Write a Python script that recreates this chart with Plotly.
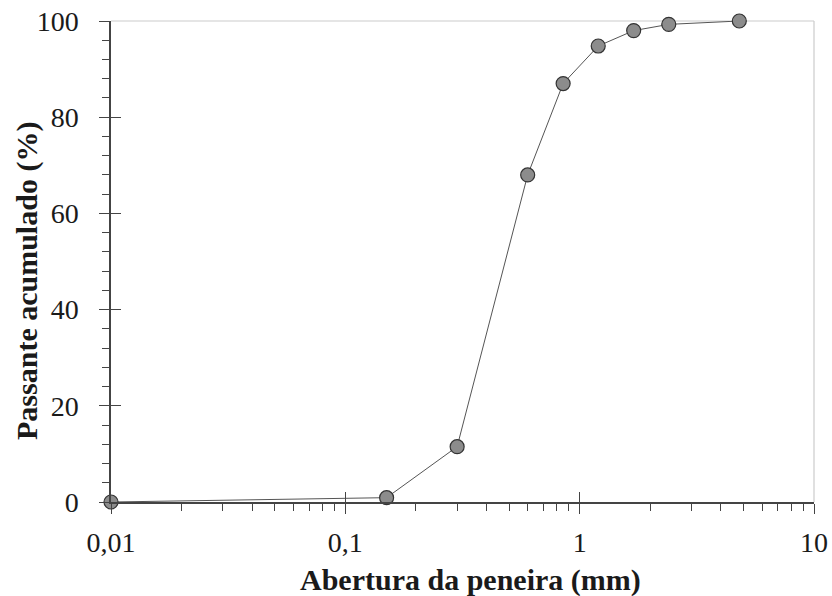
import plotly.graph_objects as go

abertura_mm = [0.01, 0.15, 0.3, 0.6, 0.85, 1.2, 1.7, 2.4, 4.8]
passante_pct = [0, 0.9, 11.5, 68, 87, 94.8, 98, 99.3, 100]

x_title = "Abertura da peneira (mm)"
y_title = "Passante acumulado (%)"

x_range_log = [-2, 1]
y_range = [0, 100]

font_family = "Liberation Serif"
text_color = "#1a1a1a"
axis_color = "#444444"

fig = go.Figure()
fig.add_trace(go.Scatter(
    x=abertura_mm, y=passante_pct, mode="lines+markers",
    line=dict(color="#555555", width=1),
    marker=dict(size=14, color="#8c8c8c", line=dict(color="#333333", width=1.2)),
    showlegend=False, hoverinfo="skip", cliponaxis=False,
))
# dummy trace for overlay axes (crossing major ticks)
fig.add_trace(go.Scatter(
    x=abertura_mm, y=passante_pct, mode="markers", xaxis="x2", yaxis="y2",
    marker=dict(opacity=0), showlegend=False, hoverinfo="skip",
))

fig.update_layout(
    width=832, height=596,
    margin=dict(l=111, r=18, t=21, b=94),
    paper_bgcolor="white", plot_bgcolor="white",
    separators=",.",
    font=dict(family=font_family, size=28, color=text_color),
    xaxis=dict(
        type="log", range=x_range_log, dtick=1, automargin=False,
        showline=True, linecolor=axis_color, linewidth=1.5,
        ticks="outside", ticklen=10, tickcolor=axis_color, tickwidth=1.2,
        minor=dict(ticks="outside", ticklen=7, tickcolor=axis_color, tickwidth=1, dtick="D1", showgrid=False),
        showgrid=False, zeroline=False, ticklabelstandoff=5,
        tickfont=dict(size=28),
    ),
    yaxis=dict(
        range=y_range, dtick=20, automargin=False,
        showline=True, linecolor=axis_color, linewidth=1.5,
        ticks="outside", ticklen=10, tickcolor=axis_color, tickwidth=1.2,
        minor=dict(ticks="outside", ticklen=7, tickcolor=axis_color, tickwidth=1, dtick=4, showgrid=False),
        showgrid=False, zeroline=False, ticklabelstandoff=15,
        tickfont=dict(size=28),
    ),
    xaxis2=dict(
        type="log", range=x_range_log, dtick=1, overlaying="x", side="bottom",
        showline=False, ticks="inside", ticklen=10, tickcolor=axis_color, tickwidth=1.2,
        showticklabels=False, showgrid=False, zeroline=False,
    ),
    yaxis2=dict(
        range=y_range, dtick=20, overlaying="y", side="left",
        showline=False, ticks="inside", ticklen=10, tickcolor=axis_color, tickwidth=1.2,
        showticklabels=False, showgrid=False, zeroline=False,
    ),
    shapes=[
        dict(type="line", xref="paper", yref="paper", x0=0, x1=1, y0=1, y1=1,
             line=dict(color="#cccccc", width=1.2), layer="below"),
        dict(type="line", xref="paper", yref="paper", x0=1, x1=1, y0=0, y1=1,
             line=dict(color="#cccccc", width=1.2), layer="below"),
    ],
    annotations=[
        dict(text="<b>" + x_title + "</b>", xref="paper", yref="paper",
             x=0.512, y=-0.163, xanchor="center", yanchor="middle",
             showarrow=False, font=dict(size=30, color=text_color)),
        dict(text="<b>" + y_title + "</b>", xref="paper", yref="paper",
             x=-0.1195, y=0.4595, xanchor="center", yanchor="middle", textangle=-90,
             showarrow=False, font=dict(size=30, color=text_color)),
    ],
)

fig.write_html("out.html")
